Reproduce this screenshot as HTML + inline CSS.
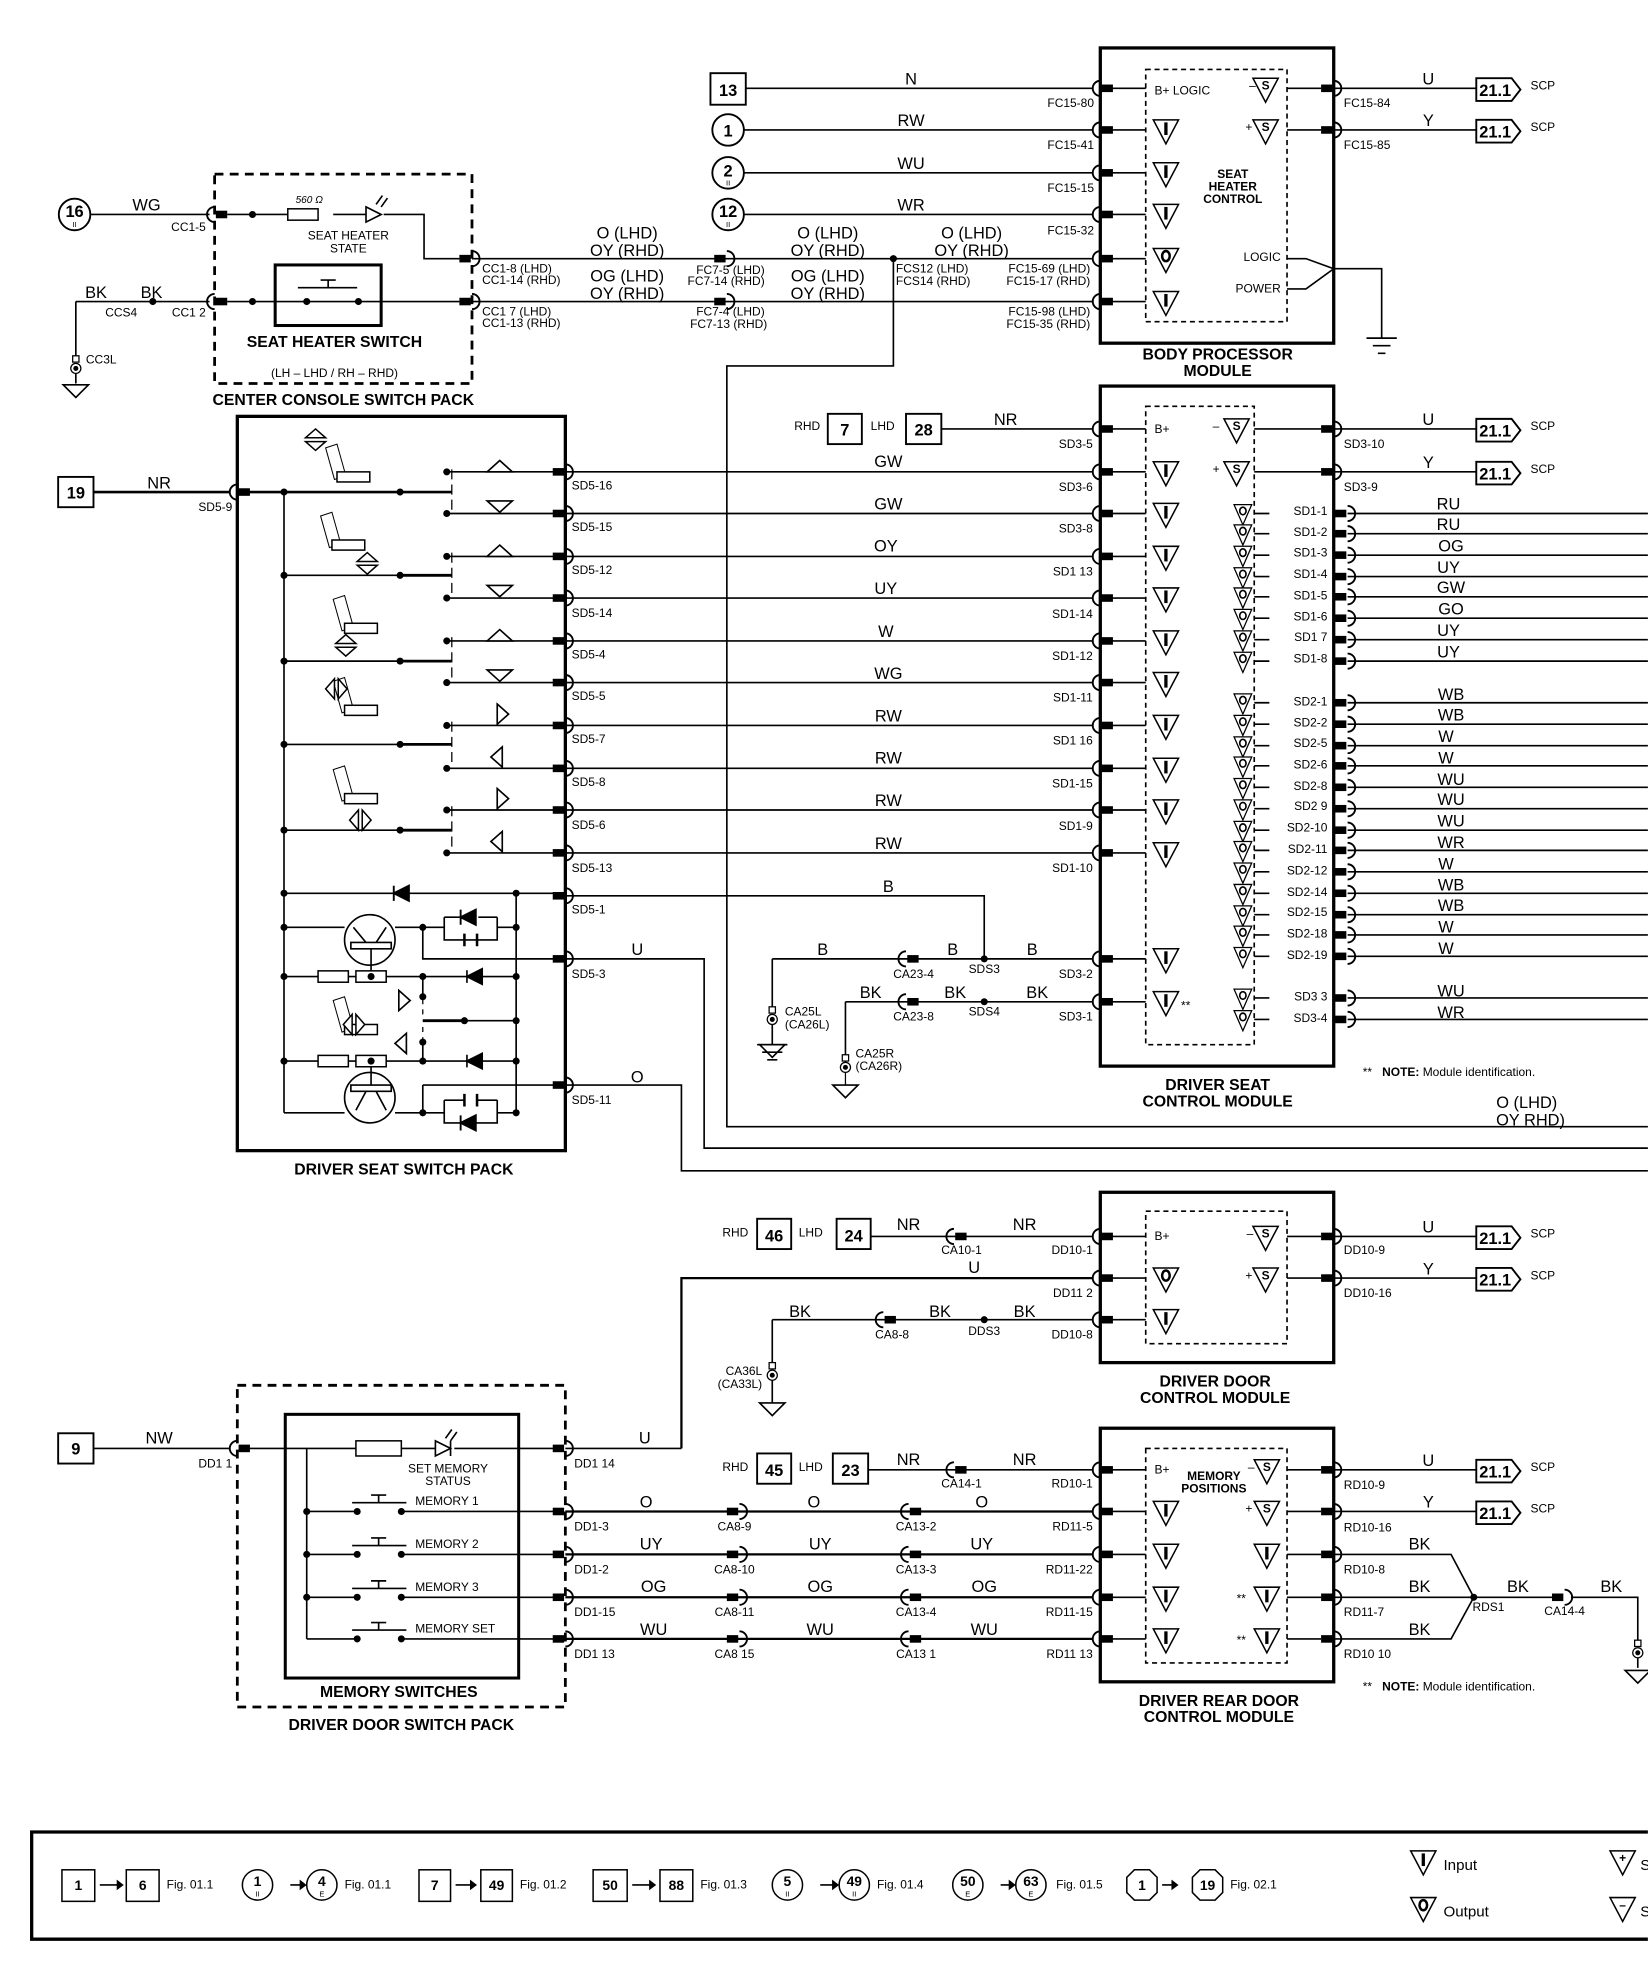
<!DOCTYPE html>
<html><head><meta charset="utf-8">
<style>
html,body{margin:0;padding:0;background:#fff;}
svg{display:block;}
text{font-family:"Liberation Sans",sans-serif;fill:#000;stroke:none;}
.s{font-size:9.5px;}
.m{font-size:13px;}
.b{font-size:12.5px;font-weight:bold;}
.n{font-size:13px;font-weight:bold;text-anchor:middle;}
.c{text-anchor:middle;}
.e{text-anchor:end;}
</style></head><body>
<svg width="1648" height="1972" viewBox="0 0 1306 1563" xmlns="http://www.w3.org/2000/svg">
<defs>
<g id="cL"><path d="M0,-6a6,6 0 0 0 0,12" fill="none" stroke="#000" stroke-width="1.5"/><rect x="1" y="-3" width="9" height="6" fill="#000"/></g>
<g id="cR"><rect x="-10" y="-3" width="9" height="6" fill="#000"/><path d="M0,-6a6,6 0 0 1 0,12" fill="none" stroke="#000" stroke-width="1.5"/></g>
<g id="ti"><path d="M-10,-8H10L0,11Z" fill="#fff" stroke="#000" stroke-width="1.2"/><path d="M0,-6V4" stroke="#000" stroke-width="2.6"/></g>
<g id="to"><path d="M-10,-8H10L0,11Z" fill="#fff" stroke="#000" stroke-width="1.2"/><ellipse cx="0" cy="-2" rx="3" ry="4" fill="none" stroke="#000" stroke-width="2"/></g>
<g id="ts"><path d="M-10,-8H10L0,11Z" fill="#fff" stroke="#000" stroke-width="1.2"/></g>
<g id="so"><path d="M-7,-7H7L0,9Z" fill="#fff" stroke="#000" stroke-width="1"/><ellipse cx="0" cy="-2" rx="2.5" ry="3" fill="none" stroke="#000" stroke-width="1.3"/></g>
<g id="gnd"><path d="M-10,0H10L0,10Z" fill="#fff" stroke="#000" stroke-width="1.3"/></g>
<g id="eye"><rect x="-2.5" y="-10" width="5" height="5" fill="#fff" stroke="#000" stroke-width="1"/><circle r="4" fill="#fff" stroke="#000" stroke-width="1"/><circle r="2" fill="#000"/></g>
<g id="ref"><path d="M0,-9H28L35,0L28,9H0Z" fill="#fff" stroke="#000" stroke-width="1.5"/></g>
<g id="dot"><circle r="2.8" fill="#000"/></g>
<g id="res"><rect x="0" y="-4.5" width="24" height="9" fill="#fff" stroke="#000" stroke-width="1.2"/></g>
<g id="seat"><path d="M0,0L9,-3L16,22L7,25Z" fill="#fff" stroke="#000" stroke-width="0.8"/><rect x="9" y="19" width="26" height="8" fill="#fff" stroke="#000" stroke-width="1.2"/></g>
<g id="up"><path d="M-10,5L0,-4L10,5Z" fill="#fff" stroke="#000" stroke-width="1.3"/></g>
<g id="dn"><path d="M-10,-5L0,4L10,-5Z" fill="#fff" stroke="#000" stroke-width="1.3"/></g>
<g id="rt"><path d="M-4,-8L5,0L-4,8Z" fill="#fff" stroke="#000" stroke-width="1.3"/></g>
<g id="lt"><path d="M4,-8L-5,0L4,8Z" fill="#fff" stroke="#000" stroke-width="1.3"/></g>
<g id="ud"><path d="M-8,-2L0,-9L8,-2ZM-8,1L0,8L8,1Z" fill="#fff" stroke="#000" stroke-width="1.2"/></g>
<g id="lr"><path d="M-2,-8L-9,0L-2,8ZM1,-8L8,0L1,8Z" fill="#fff" stroke="#000" stroke-width="1.2"/></g>
</defs>

<g stroke="#000" stroke-width="1.3" fill="none">
<rect x="872" y="38" width="185" height="234" stroke-width="2.6"/>
<rect x="908" y="55" width="112" height="200" stroke-dasharray="4,3"/>
<path d="M591,70H866M590,103H866M590,137H866M590,170H866M374,205H866M374,239H866"/>
<path d="M881,70H908M881,103H908M881,137H908M881,170H908M881,205H908M881,239H908"/>
<path d="M1020,70H1047M1020,103H1047M1057,70H1170M1057,103H1170"/>
<path d="M1020,205L1035,205L1057,213L1035,229L1020,229"/>
<path d="M1057,213H1095V268"/>
<path d="M1083,268H1107M1088,274H1102M1092,280H1098"/>
<path d="M708,205V290H576V893H1306"/>
<path d="M448,860H540V928H1306M448,760H558V910H1306"/>
</g>
<rect x="563" y="58" width="28" height="25" fill="#fff" stroke="#000" stroke-width="1.5"/>
<text x="577" y="76" class="n">13</text>
<g fill="#fff" stroke="#000" stroke-width="1.5">
<circle cx="577" cy="103" r="12.5"/><circle cx="577" cy="137" r="12.5"/><circle cx="577" cy="170" r="12.5"/><circle cx="59" cy="170" r="12.5"/>
</g>
<text x="577" y="108" class="n">1</text><text x="577" y="140" class="n">2</text><text x="577" y="172" class="n">12</text><text x="59" y="172" class="n">16</text>
<text x="577" y="147" class="s c" style="font-size:6px">II</text><text x="577" y="180" class="s c" style="font-size:6px">II</text><text x="59" y="180" class="s c" style="font-size:6px">II</text>
<use href="#cL" x="872" y="70"/><use href="#cL" x="872" y="103"/><use href="#cL" x="872" y="137"/><use href="#cL" x="872" y="170"/><use href="#cL" x="872" y="205"/><use href="#cL" x="872" y="239"/>
<use href="#cR" x="1057" y="70"/><use href="#cR" x="1057" y="103"/>
<use href="#ref" x="1170" y="71"/><use href="#ref" x="1170" y="104"/>
<text x="1185" y="76" class="n">21.1</text><text x="1185" y="109" class="n">21.1</text>
<text x="1213" y="71" class="s">SCP</text><text x="1213" y="104" class="s">SCP</text>
<text x="1132" y="67" class="m c">U</text><text x="1132" y="100" class="m c">Y</text>
<text x="1065" y="85" class="s">FC15-84</text><text x="1065" y="118" class="s">FC15-85</text>
<text x="722" y="67" class="m c">N</text><text x="722" y="100" class="m c">RW</text><text x="722" y="134" class="m c">WU</text><text x="722" y="167" class="m c">WR</text>
<text x="867" y="85" class="s e">FC15-80</text><text x="867" y="118" class="s e">FC15-41</text><text x="867" y="152" class="s e">FC15-15</text><text x="867" y="186" class="s e">FC15-32</text>
<text x="915" y="75" class="s">B+ LOGIC</text>
<use href="#ts" x="1003" y="70"/><use href="#ts" x="1003" y="103"/>
<text x="1003" y="71" class="s c" style="font-weight:bold">S</text><text x="1003" y="104" class="s c" style="font-weight:bold">S</text>
<text x="990" y="71" class="s">–</text><text x="987" y="104" class="s">+</text>
<use href="#ti" x="924" y="103"/><use href="#ti" x="924" y="137"/><use href="#ti" x="924" y="170"/><use href="#to" x="924" y="205"/><use href="#ti" x="924" y="239"/>
<text x="977" y="141" class="s c" style="font-weight:bold">SEAT</text><text x="977" y="151" class="s c" style="font-weight:bold">HEATER</text><text x="977" y="161" class="s c" style="font-weight:bold">CONTROL</text>
<text x="1015" y="207" class="s e">LOGIC</text><text x="1015" y="232" class="s e">POWER</text>
<text x="965" y="285" class="b c">BODY PROCESSOR</text><text x="965" y="298" class="b c">MODULE</text>

<text x="497" y="189" class="m c">O (LHD)</text><text x="497" y="203" class="m c">OY (RHD)</text>
<text x="497" y="223" class="m c">OG (LHD)</text><text x="497" y="237" class="m c">OY (RHD)</text>
<text x="656" y="189" class="m c">O (LHD)</text><text x="656" y="203" class="m c">OY (RHD)</text>
<text x="656" y="223" class="m c">OG (LHD)</text><text x="656" y="237" class="m c">OY (RHD)</text>
<text x="770" y="189" class="m c">O (LHD)</text><text x="770" y="203" class="m c">OY (RHD)</text>
<text x="382" y="216" class="s">CC1-8 (LHD)</text><text x="382" y="225" class="s">CC1-14 (RHD)</text>
<text x="382" y="250" class="s">CC1 7 (LHD)</text><text x="382" y="259" class="s">CC1-13 (RHD)</text>
<text x="606" y="217" class="s e">FC7-5 (LHD)</text><text x="606" y="226" class="s e">FC7-14 (RHD)</text>
<text x="606" y="250" class="s e">FC7-4 (LHD)</text><text x="608" y="260" class="s e">FC7-13 (RHD)</text>
<text x="710" y="216" class="s">FCS12 (LHD)</text><text x="710" y="226" class="s">FCS14 (RHD)</text>
<text x="864" y="216" class="s e">FC15-69 (LHD)</text><text x="864" y="226" class="s e">FC15-17 (RHD)</text>
<text x="864" y="250" class="s e">FC15-98 (LHD)</text><text x="864" y="260" class="s e">FC15-35 (RHD)</text>
<use href="#cR" x="576" y="205"/><use href="#cR" x="576" y="239"/>
<use href="#dot" x="708" y="205"/>

<g stroke="#000" stroke-width="1.3" fill="none">
<rect x="170" y="138" width="204" height="166" stroke-width="2.2" stroke-dasharray="7,5"/>
<path d="M72,170H166M180,170H228M264,170H290M304,170H336V205H364"/>
<path d="M60,239H166M180,239H364"/>
<path d="M60,239V283M60,293V304"/>
<rect x="218" y="210" width="84" height="48" stroke-width="2.4"/>
<path d="M236,228H283M260,228V222M254,222H266"/>
<path d="M290,164V176M290,164L302,170L290,176Z"/>
<path d="M298,162L303,155M302,164L307,157"/>
</g>
<use href="#res" x="228" y="170"/>
<use href="#dot" x="200" y="170"/><use href="#dot" x="200" y="239"/><use href="#dot" x="243" y="239"/><use href="#dot" x="284" y="239"/><use href="#dot" x="121" y="239"/>
<use href="#cL" x="170" y="170"/><use href="#cL" x="170" y="239"/><use href="#cR" x="374" y="205"/><use href="#cR" x="374" y="239"/>
<use href="#eye" x="60" y="292"/><use href="#gnd" x="60" y="305"/>
<text x="245" y="161" class="s c" style="font-size:8px;font-style:italic">560 Ω</text>
<text x="276" y="190" class="s c">SEAT HEATER</text><text x="276" y="200" class="s c">STATE</text>
<text x="265" y="275" class="b c">SEAT HEATER SWITCH</text>
<text x="265" y="299" class="s c">(LH – LHD / RH – RHD)</text>
<text x="272" y="321" class="b c">CENTER CONSOLE SWITCH PACK</text>
<text x="116" y="167" class="m c">WG</text><text x="163" y="183" class="s e">CC1-5</text>
<text x="76" y="236" class="m c">BK</text><text x="120" y="236" class="m c">BK</text>
<text x="96" y="251" class="s c">CCS4</text><text x="163" y="251" class="s e">CC1 2</text>
<text x="68" y="288" class="s">CC3L</text>

<g stroke="#000" stroke-width="1.3" fill="none">
<rect x="872" y="306" width="185" height="539" stroke-width="2.6"/>
<rect x="908" y="322" width="86" height="506" stroke-dasharray="4,3"/>
<path d="M746,340H866M881,340H908"/>
<path d="M448,374H866M448,407H866M448,441H866M448,474H866M448,508H866M448,541H866M448,575H866M448,609H866M448,642H866M448,676H866"/>
<path d="M881,374H908M881,407H908M881,441H908M881,474H908M881,508H908M881,541H908M881,575H908M881,609H908M881,642H908M881,676H908M881,760H908M881,794H908"/>
<path d="M994,340H1047M994,374H1047M1057,340H1170M1057,374H1170"/>
<path d="M448,710H780V760M612,760H866M612,760V800M670,794H866M670,794V850"/>
<path d="M994,407H1006M994,423H1006M994,440H1006M994,457H1006M994,473H1006M994,490H1006M994,507H1006M994,524H1006"/>
<path d="M994,557H1006M994,574H1006M994,591H1006M994,607H1006M994,624H1006M994,641H1006M994,658H1006M994,674H1006M994,691H1006M994,708H1006M994,725H1006M994,741H1006M994,758H1006M994,791H1006M994,808H1006"/>
<path d="M1068,407H1306M1068,423H1306M1068,440H1306M1068,457H1306M1068,473H1306M1068,490H1306M1068,507H1306M1068,524H1306M1068,557H1306M1068,574H1306M1068,591H1306M1068,607H1306M1068,624H1306M1068,641H1306M1068,658H1306M1068,674H1306M1068,691H1306M1068,708H1306M1068,725H1306M1068,741H1306M1068,758H1306M1068,791H1306M1068,808H1306"/>
</g>
<rect x="656" y="328" width="27" height="24" fill="#fff" stroke="#000" stroke-width="1.5"/><text x="669.5" y="345" class="n">7</text>
<rect x="718" y="328" width="28" height="24" fill="#fff" stroke="#000" stroke-width="1.5"/><text x="732" y="345" class="n">28</text>
<text x="650" y="341" class="s e">RHD</text><text x="690" y="341" class="s">LHD</text>
<text x="797" y="337" class="m c">NR</text><text x="866" y="355" class="s e">SD3-5</text>
<use href="#cL" x="872" y="340"/>
<g>
<use href="#cL" x="872" y="374"/><use href="#cL" x="872" y="407"/><use href="#cL" x="872" y="441"/><use href="#cL" x="872" y="474"/><use href="#cL" x="872" y="508"/><use href="#cL" x="872" y="541"/><use href="#cL" x="872" y="575"/><use href="#cL" x="872" y="609"/><use href="#cL" x="872" y="642"/><use href="#cL" x="872" y="676"/><use href="#cL" x="872" y="760"/><use href="#cL" x="872" y="794"/>
<use href="#cR" x="448" y="374"/><use href="#cR" x="448" y="407"/><use href="#cR" x="448" y="441"/><use href="#cR" x="448" y="474"/><use href="#cR" x="448" y="508"/><use href="#cR" x="448" y="541"/><use href="#cR" x="448" y="575"/><use href="#cR" x="448" y="609"/><use href="#cR" x="448" y="642"/><use href="#cR" x="448" y="676"/><use href="#cR" x="448" y="710"/><use href="#cR" x="448" y="760"/><use href="#cR" x="448" y="860"/>
<use href="#ti" x="924" y="374"/><use href="#ti" x="924" y="407"/><use href="#ti" x="924" y="441"/><use href="#ti" x="924" y="474"/><use href="#ti" x="924" y="508"/><use href="#ti" x="924" y="541"/><use href="#ti" x="924" y="575"/><use href="#ti" x="924" y="609"/><use href="#ti" x="924" y="642"/><use href="#ti" x="924" y="676"/><use href="#ti" x="924" y="760"/><use href="#ti" x="924" y="794"/>
</g>
<text x="936" y="800" class="s">**</text>
<text x="915" y="343" class="s">B+</text>
<use href="#ts" x="980" y="340"/><use href="#ts" x="980" y="374"/>
<text x="980" y="341" class="s c" style="font-weight:bold">S</text><text x="980" y="375" class="s c" style="font-weight:bold">S</text>
<text x="961" y="341" class="s">–</text><text x="961" y="375" class="s">+</text>
<use href="#cR" x="1057" y="340"/><use href="#cR" x="1057" y="374"/>
<use href="#ref" x="1170" y="341"/><use href="#ref" x="1170" y="375"/>
<text x="1185" y="346" class="n">21.1</text><text x="1185" y="380" class="n">21.1</text>
<text x="1213" y="341" class="s">SCP</text><text x="1213" y="375" class="s">SCP</text>
<text x="1132" y="337" class="m c">U</text><text x="1132" y="371" class="m c">Y</text>
<text x="1065" y="355" class="s">SD3-10</text><text x="1065" y="389" class="s">SD3-9</text>
<g>
<use href="#so" x="985" y="407"/><use href="#so" x="985" y="423"/><use href="#so" x="985" y="440"/><use href="#so" x="985" y="457"/><use href="#so" x="985" y="473"/><use href="#so" x="985" y="490"/><use href="#so" x="985" y="507"/><use href="#so" x="985" y="524"/>
<use href="#so" x="985" y="557"/><use href="#so" x="985" y="574"/><use href="#so" x="985" y="591"/><use href="#so" x="985" y="607"/><use href="#so" x="985" y="624"/><use href="#so" x="985" y="641"/><use href="#so" x="985" y="658"/><use href="#so" x="985" y="674"/><use href="#so" x="985" y="691"/><use href="#so" x="985" y="708"/><use href="#so" x="985" y="725"/><use href="#so" x="985" y="741"/><use href="#so" x="985" y="758"/><use href="#so" x="985" y="791"/><use href="#so" x="985" y="808"/>
<use href="#cR" x="1068" y="407"/><use href="#cR" x="1068" y="423"/><use href="#cR" x="1068" y="440"/><use href="#cR" x="1068" y="457"/><use href="#cR" x="1068" y="473"/><use href="#cR" x="1068" y="490"/><use href="#cR" x="1068" y="507"/><use href="#cR" x="1068" y="524"/>
<use href="#cR" x="1068" y="557"/><use href="#cR" x="1068" y="574"/><use href="#cR" x="1068" y="591"/><use href="#cR" x="1068" y="607"/><use href="#cR" x="1068" y="624"/><use href="#cR" x="1068" y="641"/><use href="#cR" x="1068" y="658"/><use href="#cR" x="1068" y="674"/><use href="#cR" x="1068" y="691"/><use href="#cR" x="1068" y="708"/><use href="#cR" x="1068" y="725"/><use href="#cR" x="1068" y="741"/><use href="#cR" x="1068" y="758"/><use href="#cR" x="1068" y="791"/><use href="#cR" x="1068" y="808"/>
</g>
<g class="s" style="font-size:9.5px">
<text x="1052" y="408" class="e">SD1-1</text><text x="1052" y="425" class="e">SD1-2</text><text x="1052" y="441" class="e">SD1-3</text><text x="1052" y="458" class="e">SD1-4</text><text x="1052" y="475" class="e">SD1-5</text><text x="1052" y="492" class="e">SD1-6</text><text x="1052" y="508" class="e">SD1 7</text><text x="1052" y="525" class="e">SD1-8</text>
<text x="1052" y="559" class="e">SD2-1</text><text x="1052" y="576" class="e">SD2-2</text><text x="1052" y="592" class="e">SD2-5</text><text x="1052" y="609" class="e">SD2-6</text><text x="1052" y="626" class="e">SD2-8</text><text x="1052" y="642" class="e">SD2 9</text><text x="1052" y="659" class="e">SD2-10</text><text x="1052" y="676" class="e">SD2-11</text><text x="1052" y="693" class="e">SD2-12</text><text x="1052" y="710" class="e">SD2-14</text><text x="1052" y="726" class="e">SD2-15</text><text x="1052" y="743" class="e">SD2-18</text><text x="1052" y="760" class="e">SD2-19</text><text x="1052" y="793" class="e">SD3 3</text><text x="1052" y="810" class="e">SD3-4</text>
</g>
<g class="m">
<text x="1148" y="404" class="c">RU</text><text x="1148" y="420" class="c">RU</text><text x="1150" y="437" class="c">OG</text><text x="1148" y="454" class="c">UY</text><text x="1150" y="470" class="c">GW</text><text x="1150" y="487" class="c">GO</text><text x="1148" y="504" class="c">UY</text><text x="1148" y="521" class="c">UY</text>
<text x="1150" y="555" class="c">WB</text><text x="1150" y="571" class="c">WB</text><text x="1146" y="588" class="c">W</text><text x="1146" y="605" class="c">W</text><text x="1150" y="622" class="c">WU</text><text x="1150" y="638" class="c">WU</text><text x="1150" y="655" class="c">WU</text><text x="1150" y="672" class="c">WR</text><text x="1146" y="689" class="c">W</text><text x="1150" y="706" class="c">WB</text><text x="1150" y="722" class="c">WB</text><text x="1146" y="739" class="c">W</text><text x="1146" y="756" class="c">W</text><text x="1150" y="790" class="c">WU</text><text x="1150" y="807" class="c">WR</text>
</g>
<g class="m">
<text x="704" y="370" class="c">GW</text><text x="704" y="404" class="c">GW</text><text x="702" y="437" class="c">OY</text><text x="702" y="471" class="c">UY</text><text x="702" y="505" class="c">W</text><text x="704" y="538" class="c">WG</text><text x="704" y="572" class="c">RW</text><text x="704" y="605" class="c">RW</text><text x="704" y="639" class="c">RW</text><text x="704" y="673" class="c">RW</text>
<text x="704" y="707" class="c">B</text><text x="505" y="757" class="c">U</text><text x="505" y="858" class="c">O</text>
<text x="652" y="757" class="c">B</text><text x="755" y="757" class="c">B</text><text x="818" y="757" class="c">B</text>
<text x="690" y="791" class="c">BK</text><text x="757" y="791" class="c">BK</text><text x="822" y="791" class="c">BK</text>
</g>
<g class="s">
<text x="866" y="389" class="e">SD3-6</text><text x="866" y="422" class="e">SD3-8</text><text x="866" y="456" class="e">SD1 13</text><text x="866" y="490" class="e">SD1-14</text><text x="866" y="523" class="e">SD1-12</text><text x="866" y="556" class="e">SD1-11</text><text x="866" y="590" class="e">SD1 16</text><text x="866" y="624" class="e">SD1-15</text><text x="866" y="658" class="e">SD1-9</text><text x="866" y="691" class="e">SD1-10</text><text x="866" y="775" class="e">SD3-2</text><text x="866" y="809" class="e">SD3-1</text>
<text x="453" y="388">SD5-16</text><text x="453" y="421">SD5-15</text><text x="453" y="455">SD5-12</text><text x="453" y="489">SD5-14</text><text x="453" y="522">SD5-4</text><text x="453" y="555">SD5-5</text><text x="453" y="589">SD5-7</text><text x="453" y="623">SD5-8</text><text x="453" y="657">SD5-6</text><text x="453" y="691">SD5-13</text><text x="453" y="724">SD5-1</text><text x="453" y="775">SD5-3</text><text x="453" y="875">SD5-11</text>
<text x="724" y="775" class="c">CA23-4</text><text x="780" y="771" class="c">SDS3</text><text x="724" y="809" class="c">CA23-8</text><text x="780" y="805" class="c">SDS4</text>
<text x="622" y="805">CA25L</text><text x="622" y="815">(CA26L)</text><text x="678" y="838">CA25R</text><text x="678" y="848">(CA26R)</text>
</g>
<use href="#cL" x="718" y="760"/><use href="#cL" x="718" y="794"/><use href="#dot" x="780" y="760"/><use href="#dot" x="780" y="794"/>
<use href="#eye" x="612" y="808"/><use href="#gnd" x="612" y="828"/><path d="M612,812V828M600,828H624M604,834H620M608,840H616" stroke="#000" stroke-width="1.3"/>
<use href="#eye" x="670" y="846"/><use href="#gnd" x="670" y="860"/><path d="M670,850V860" stroke="#000"/>
<text x="1080" y="853" class="s"><tspan>**</tspan><tspan dx="8" font-weight="bold">NOTE:</tspan> Module identification.</text>
<text x="965" y="864" class="b c">DRIVER SEAT</text><text x="965" y="877" class="b c">CONTROL MODULE</text>
<text x="1210" y="878" class="m c">O (LHD)</text><text x="1213" y="892" class="m c">OY RHD)</text>

<g stroke="#000" stroke-width="1.3" fill="none">
<rect x="188" y="330" width="260" height="582" stroke-width="2.6"/>
<path d="M74,390H182M197,390H358" stroke-width="2"/>
<path d="M225,390V882"/>
<path d="M225,456H358M225,524H358M225,590H358M225,658H358"/>
<path d="M317,456H358M317,524H358M317,590H358M317,658H358" stroke-width="2.2"/>
<path d="M354,374H440M354,407H440M354,441H440M354,474H440M354,508H440M354,541H440M354,575H440M354,609H440M354,642H440M354,676H440"/>
<path d="M358,372V380M358,384V392M358,396V404M358,438V446M358,450V458M358,462V470M358,505V513M358,517V525M358,529V537M358,572V580M358,584V592M358,596V604M358,639V647M358,651V659M358,663V671" stroke-width="1"/>
<path d="M225,708H440M225,735H273M313,735H352M394,735H409M335,735V760H440M225,774H252M276,774H282M306,774H409M225,841H252M276,841H282M306,841H409M335,774V790M335,826V841M335,809H409M335,860H440M335,860V882M225,882H273M313,882H352M394,882H409M409,708V882"/>
<path d="M352,727V745H394V727M352,727H365M379,727H394M352,745H368M378,745H394M352,872V890H394V872M352,890H365M379,890H394M352,872H368M378,872H394"/>
<path d="M368,740V750M378,740V750M368,867V877M378,867V877" stroke-width="2"/>
<path d="M335,809H368" stroke-width="2.2"/>
<path d="M335,792V796M335,800V804M335,814V818M335,822V826" stroke-width="1"/>
<circle cx="293" cy="745" r="20"/><circle cx="293" cy="870" r="20"/>
<path d="M278,747H310V752H278ZM294,752V774M280,735L290,747M306,735L298,747M278,860H310V865H278ZM294,860V841M282,880L290,865M306,880L298,865"/>
<path d="M370,769V779M370,836V846"/>
</g>
<path d="M312,708L324,702V714Z M312,702V714" fill="#000" stroke="#000" stroke-width="1.5"/>
<path d="M365,727L377,721V733Z M365,721V733" fill="#000" stroke="#000" stroke-width="1.5"/>
<path d="M365,890L377,884V896Z M365,884V896" fill="#000" stroke="#000" stroke-width="1.5"/>
<path d="M370,774L382,768V780Z M370,841L382,835V847Z" fill="#000" stroke="#000" stroke-width="1.5"/>
<use href="#res" x="252" y="774"/><use href="#res" x="282" y="774"/><use href="#res" x="252" y="841"/><use href="#res" x="282" y="841"/>
<use href="#cL" x="188" y="390"/>
<g>
<use href="#dot" x="225" y="390"/><use href="#dot" x="317" y="390"/><use href="#dot" x="225" y="456"/><use href="#dot" x="317" y="456"/><use href="#dot" x="225" y="524"/><use href="#dot" x="317" y="524"/><use href="#dot" x="225" y="590"/><use href="#dot" x="317" y="590"/><use href="#dot" x="225" y="658"/><use href="#dot" x="317" y="658"/>
<use href="#dot" x="354" y="374"/><use href="#dot" x="354" y="407"/><use href="#dot" x="354" y="441"/><use href="#dot" x="354" y="474"/><use href="#dot" x="354" y="508"/><use href="#dot" x="354" y="541"/><use href="#dot" x="354" y="575"/><use href="#dot" x="354" y="609"/><use href="#dot" x="354" y="642"/><use href="#dot" x="354" y="676"/>
<use href="#dot" x="225" y="708"/><use href="#dot" x="409" y="708"/><use href="#dot" x="225" y="735"/><use href="#dot" x="335" y="735"/><use href="#dot" x="409" y="735"/><use href="#dot" x="225" y="774"/><use href="#dot" x="294" y="774"/><use href="#dot" x="335" y="774"/><use href="#dot" x="409" y="774"/><use href="#dot" x="335" y="790"/><use href="#dot" x="335" y="826"/><use href="#dot" x="368" y="809"/><use href="#dot" x="409" y="809"/><use href="#dot" x="225" y="841"/><use href="#dot" x="294" y="841"/><use href="#dot" x="335" y="841"/><use href="#dot" x="409" y="841"/><use href="#dot" x="335" y="882"/><use href="#dot" x="409" y="882"/>
</g>
<use href="#up" x="396" y="369"/><use href="#dn" x="396" y="402"/><use href="#up" x="396" y="436"/><use href="#dn" x="396" y="469"/><use href="#up" x="396" y="503"/><use href="#dn" x="396" y="536"/><use href="#rt" x="398" y="566"/><use href="#lt" x="394" y="600"/><use href="#rt" x="398" y="633"/><use href="#lt" x="394" y="667"/>
<use href="#seat" x="258" y="355"/><use href="#seat" x="254" y="409"/><use href="#seat" x="264" y="475"/><use href="#seat" x="264" y="540"/><use href="#seat" x="264" y="610"/><use href="#seat" x="264" y="793"/>
<use href="#ud" x="250" y="349"/><use href="#ud" x="291" y="447"/><use href="#ud" x="274" y="512"/><use href="#lr" x="267" y="546"/><use href="#lr" x="286" y="650"/><use href="#lr" x="281" y="812"/>
<use href="#rt" x="320" y="793"/><use href="#lt" x="318" y="827"/>
<rect x="46" y="378" width="28" height="24" fill="#fff" stroke="#000" stroke-width="1.5"/><text x="60" y="395" class="n">19</text>
<text x="126" y="387" class="m c">NR</text><text x="184" y="405" class="s e">SD5-9</text>
<text x="320" y="931" class="b c">DRIVER SEAT SWITCH PACK</text>

<g stroke="#000" stroke-width="1.3" fill="none">
<rect x="872" y="945" width="185" height="135" stroke-width="2.6"/>
<rect x="908" y="960" width="112" height="105" stroke-dasharray="4,3"/>
<path d="M690,980H866M881,980H908M881,1013H908M881,1046H908M1020,980H1047M1020,1013H1047M1057,980H1170M1057,1013H1170"/>
<path d="M540,1148V1013H866" stroke-width="1.8"/>
<path d="M612,1046H866M612,1046V1082M612,1092V1112"/>
</g>
<rect x="600" y="966" width="27" height="24" fill="#fff" stroke="#000" stroke-width="1.5"/><text x="613.5" y="984" class="n">46</text>
<rect x="663" y="966" width="27" height="24" fill="#fff" stroke="#000" stroke-width="1.5"/><text x="676.5" y="984" class="n">24</text>
<text x="593" y="980" class="s e">RHD</text><text x="633" y="980" class="s">LHD</text>
<use href="#cL" x="756" y="980"/><use href="#cL" x="872" y="980"/><use href="#cL" x="872" y="1013"/><use href="#cL" x="872" y="1046"/><use href="#cL" x="700" y="1046"/><use href="#dot" x="780" y="1046"/>
<use href="#cR" x="1057" y="980"/><use href="#cR" x="1057" y="1013"/>
<use href="#eye" x="612" y="1090"/><use href="#gnd" x="612" y="1112"/>
<text x="720" y="975" class="m c">NR</text><text x="812" y="975" class="m c">NR</text><text x="772" y="1009" class="m c">U</text>
<text x="634" y="1044" class="m c">BK</text><text x="745" y="1044" class="m c">BK</text><text x="812" y="1044" class="m c">BK</text>
<text x="762" y="994" class="s c">CA10-1</text><text x="866" y="994" class="s e">DD10-1</text><text x="866" y="1028" class="s e">DD11 2</text>
<text x="707" y="1061" class="s c">CA8-8</text><text x="780" y="1058" class="s c">DDS3</text><text x="866" y="1061" class="s e">DD10-8</text>
<text x="604" y="1090" class="s e">CA36L</text><text x="604" y="1100" class="s e">(CA33L)</text>
<text x="915" y="983" class="s">B+</text>
<use href="#ts" x="1003" y="980"/><use href="#ts" x="1003" y="1013"/>
<text x="1003" y="981" class="s c" style="font-weight:bold">S</text><text x="1003" y="1014" class="s c" style="font-weight:bold">S</text>
<text x="988" y="981" class="s">–</text><text x="987" y="1014" class="s">+</text>
<use href="#to" x="924" y="1013"/><use href="#ti" x="924" y="1046"/>
<use href="#ref" x="1170" y="981"/><use href="#ref" x="1170" y="1014"/>
<text x="1185" y="986" class="n">21.1</text><text x="1185" y="1019" class="n">21.1</text>
<text x="1213" y="981" class="s">SCP</text><text x="1213" y="1014" class="s">SCP</text>
<text x="1132" y="977" class="m c">U</text><text x="1132" y="1010" class="m c">Y</text>
<text x="1065" y="994" class="s">DD10-9</text><text x="1065" y="1028" class="s">DD10-16</text>
<text x="963" y="1099" class="b c">DRIVER DOOR</text><text x="963" y="1112" class="b c">CONTROL MODULE</text>

<g stroke="#000" stroke-width="1.3" fill="none">
<rect x="188" y="1098" width="260" height="255" stroke-width="2.2" stroke-dasharray="7,5"/>
<rect x="226" y="1121" width="185" height="209" stroke-width="2.4"/>
<path d="M74,1148H182M197,1148H282M318,1148H345M360,1148H440M448,1148H540"/>
<path d="M243,1148V1299"/>
<path d="M243,1198H283M318,1198H440M243,1232H283M318,1232H440M243,1266H283M318,1266H440M243,1299H283M318,1299H440"/>
<path d="M448,1198H866M448,1232H866M448,1266H866M448,1299H866" stroke-width="1.8"/>
<path d="M279,1191H322M300,1191V1185M294,1185H306M279,1225H322M300,1225V1219M294,1219H306M279,1259H322M300,1259V1253M294,1253H306M279,1292H322M300,1292V1286M294,1286H306"/>
<path d="M345,1142V1154M345,1142L357,1148L345,1154Z M357,1142V1154M353,1140L358,1133M357,1142L362,1135"/>
</g>
<rect x="282" y="1142" width="36" height="12" fill="#fff" stroke="#000" stroke-width="1.2"/>
<g>
<use href="#dot" x="243" y="1198"/><use href="#dot" x="243" y="1232"/><use href="#dot" x="243" y="1266"/><use href="#dot" x="283" y="1198"/><use href="#dot" x="318" y="1198"/><use href="#dot" x="283" y="1232"/><use href="#dot" x="318" y="1232"/><use href="#dot" x="283" y="1266"/><use href="#dot" x="318" y="1266"/><use href="#dot" x="283" y="1299"/><use href="#dot" x="318" y="1299"/>
<use href="#cL" x="188" y="1148"/><use href="#cR" x="448" y="1148"/><use href="#cR" x="448" y="1198"/><use href="#cR" x="448" y="1232"/><use href="#cR" x="448" y="1266"/><use href="#cR" x="448" y="1299"/>
<use href="#cR" x="586" y="1198"/><use href="#cR" x="586" y="1232"/><use href="#cR" x="586" y="1266"/><use href="#cR" x="586" y="1299"/>
<use href="#cL" x="720" y="1198"/><use href="#cL" x="720" y="1232"/><use href="#cL" x="720" y="1266"/><use href="#cL" x="720" y="1299"/>
</g>
<rect x="46" y="1136" width="28" height="24" fill="#fff" stroke="#000" stroke-width="1.5"/><text x="60" y="1153" class="n">9</text>
<text x="126" y="1144" class="m c">NW</text><text x="184" y="1163" class="s e">DD1 1</text>
<text x="355" y="1167" class="s c">SET MEMORY</text><text x="355" y="1177" class="s c">STATUS</text>
<text x="329" y="1193" class="s">MEMORY 1</text><text x="329" y="1227" class="s">MEMORY 2</text><text x="329" y="1261" class="s">MEMORY 3</text><text x="329" y="1294" class="s">MEMORY SET</text>
<text x="316" y="1345" class="b c">MEMORY SWITCHES</text><text x="318" y="1371" class="b c">DRIVER DOOR SWITCH PACK</text>
<text x="511" y="1144" class="m c">U</text>
<text x="512" y="1195" class="m c">O</text><text x="516" y="1228" class="m c">UY</text><text x="518" y="1262" class="m c">OG</text><text x="518" y="1296" class="m c">WU</text>
<text x="645" y="1195" class="m c">O</text><text x="650" y="1228" class="m c">UY</text><text x="650" y="1262" class="m c">OG</text><text x="650" y="1296" class="m c">WU</text>
<text x="778" y="1195" class="m c">O</text><text x="778" y="1228" class="m c">UY</text><text x="780" y="1262" class="m c">OG</text><text x="780" y="1296" class="m c">WU</text>
<g class="s">
<text x="455" y="1163">DD1 14</text><text x="455" y="1213">DD1-3</text><text x="455" y="1247">DD1-2</text><text x="455" y="1281">DD1-15</text><text x="455" y="1314">DD1 13</text>
<text x="582" y="1213" class="c">CA8-9</text><text x="582" y="1247" class="c">CA8-10</text><text x="582" y="1281" class="c">CA8-11</text><text x="582" y="1314" class="c">CA8 15</text>
<text x="726" y="1213" class="c">CA13-2</text><text x="726" y="1247" class="c">CA13-3</text><text x="726" y="1281" class="c">CA13-4</text><text x="726" y="1314" class="c">CA13 1</text>
<text x="866" y="1213" class="e">RD11-5</text><text x="866" y="1247" class="e">RD11-22</text><text x="866" y="1281" class="e">RD11-15</text><text x="866" y="1314" class="e">RD11 13</text>
</g>

<g stroke="#000" stroke-width="1.3" fill="none">
<rect x="872" y="1132" width="185" height="201" stroke-width="2.6"/>
<rect x="908" y="1148" width="112" height="170" stroke-dasharray="4,3"/>
<path d="M688,1165H866M881,1165H908M881,1198H908M881,1232H908M881,1266H908M881,1299H908"/>
<path d="M1020,1165H1047M1020,1198H1047M1020,1232H1047M1020,1266H1047M1020,1299H1047M1057,1165H1170M1057,1198H1170"/>
<path d="M1057,1232H1150L1168,1266L1150,1299H1057M1057,1266H1235M1245,1266H1298V1300M1298,1312V1322"/>
</g>
<rect x="600" y="1152" width="27" height="24" fill="#fff" stroke="#000" stroke-width="1.5"/><text x="613.5" y="1170" class="n">45</text>
<rect x="660" y="1152" width="28" height="24" fill="#fff" stroke="#000" stroke-width="1.5"/><text x="674" y="1170" class="n">23</text>
<text x="593" y="1166" class="s e">RHD</text><text x="633" y="1166" class="s">LHD</text>
<use href="#cL" x="756" y="1165"/><use href="#cL" x="872" y="1165"/><use href="#cL" x="872" y="1198"/><use href="#cL" x="872" y="1232"/><use href="#cL" x="872" y="1266"/><use href="#cL" x="872" y="1299"/>
<use href="#cR" x="1057" y="1165"/><use href="#cR" x="1057" y="1198"/><use href="#cR" x="1057" y="1232"/><use href="#cR" x="1057" y="1266"/><use href="#cR" x="1057" y="1299"/>
<use href="#cR" x="1240" y="1266"/><use href="#dot" x="1168" y="1266"/>
<use href="#eye" x="1298" y="1310"/><use href="#gnd" x="1298" y="1324"/>
<text x="720" y="1161" class="m c">NR</text><text x="812" y="1161" class="m c">NR</text>
<text x="762" y="1179" class="s c">CA14-1</text><text x="866" y="1179" class="s e">RD10-1</text>
<text x="915" y="1168" class="s">B+</text>
<text x="962" y="1173" class="s c" style="font-weight:bold">MEMORY</text><text x="962" y="1183" class="s c" style="font-weight:bold">POSITIONS</text>
<use href="#ts" x="1004" y="1165"/><use href="#ts" x="1004" y="1198"/>
<text x="1004" y="1166" class="s c" style="font-weight:bold">S</text><text x="1004" y="1199" class="s c" style="font-weight:bold">S</text>
<text x="989" y="1166" class="s">–</text><text x="987" y="1199" class="s">+</text>
<use href="#ti" x="924" y="1198"/><use href="#ti" x="924" y="1232"/><use href="#ti" x="924" y="1266"/><use href="#ti" x="924" y="1299"/>
<use href="#ti" x="1004" y="1232"/><use href="#ti" x="1004" y="1266"/><use href="#ti" x="1004" y="1299"/>
<text x="980" y="1270" class="s">**</text><text x="980" y="1303" class="s">**</text>
<use href="#ref" x="1170" y="1166"/><use href="#ref" x="1170" y="1199"/>
<text x="1185" y="1171" class="n">21.1</text><text x="1185" y="1204" class="n">21.1</text>
<text x="1213" y="1166" class="s">SCP</text><text x="1213" y="1199" class="s">SCP</text>
<text x="1132" y="1162" class="m c">U</text><text x="1132" y="1195" class="m c">Y</text>
<text x="1125" y="1228" class="m c">BK</text><text x="1125" y="1262" class="m c">BK</text><text x="1125" y="1296" class="m c">BK</text>
<text x="1203" y="1262" class="m c">BK</text><text x="1277" y="1262" class="m c">BK</text>
<g class="s">
<text x="1065" y="1180">RD10-9</text><text x="1065" y="1214">RD10-16</text><text x="1065" y="1247">RD10-8</text><text x="1065" y="1281">RD11-7</text><text x="1065" y="1314">RD10 10</text>
<text x="1167" y="1277">RDS1</text><text x="1240" y="1280" class="c">CA14-4</text>
</g>
<text x="1080" y="1340" class="s"><tspan>**</tspan><tspan dx="8" font-weight="bold">NOTE:</tspan> Module identification.</text>
<text x="966" y="1352" class="b c">DRIVER REAR DOOR</text><text x="966" y="1365" class="b c">CONTROL MODULE</text>

<path d="M1306,1452H25V1537H1306" fill="none" stroke="#000" stroke-width="2.6"/>
<g fill="#fff" stroke="#000" stroke-width="1.2">
<rect x="49" y="1482" width="26" height="25"/><rect x="100" y="1482" width="26" height="25"/>
<rect x="332" y="1482" width="25" height="25"/><rect x="381" y="1482" width="25" height="25"/>
<rect x="470" y="1482" width="27" height="25"/><rect x="523" y="1482" width="26" height="25"/>
<circle cx="204" cy="1494" r="12"/><circle cx="255" cy="1494" r="12"/>
<circle cx="624" cy="1494" r="12"/><circle cx="677" cy="1494" r="12"/>
<circle cx="767" cy="1494" r="12"/><circle cx="817" cy="1494" r="12"/>
<path d="M899,1482H911L917,1488V1500L911,1506H899L893,1500V1488Z"/>
<path d="M951,1482H963L969,1488V1500L963,1506H951L945,1500V1488Z"/>
</g>
<g stroke="#000" stroke-width="1.2" fill="#000">
<path d="M79,1494H93M93,1491L97,1494L93,1497Z M230,1494H238M238,1491L242,1494L238,1497Z M361,1494H373M373,1491L377,1494L373,1497Z M501,1494H515M515,1491L519,1494L515,1497Z M650,1494H660M660,1491L664,1494L660,1497Z M793,1494H800M800,1491L804,1494L800,1497Z M921,1494H929M929,1491L933,1494L929,1497Z"/>
</g>
<g style="font-size:11px;font-weight:bold" text-anchor="middle">
<text x="62" y="1498">1</text><text x="113" y="1498">6</text><text x="204" y="1495">1</text><text x="255" y="1495">4</text>
<text x="344.5" y="1498">7</text><text x="393.5" y="1498">49</text><text x="483.5" y="1498">50</text><text x="536" y="1498">88</text>
<text x="624" y="1495">5</text><text x="677" y="1495">49</text><text x="767" y="1495">50</text><text x="817" y="1495">63</text>
<text x="905" y="1498">1</text><text x="957" y="1498">19</text>
</g>
<g style="font-size:6px" text-anchor="middle">
<text x="204" y="1503">II</text><text x="255" y="1503">E</text><text x="624" y="1503">II</text><text x="677" y="1503">II</text><text x="767" y="1503">E</text><text x="817" y="1503">E</text>
</g>
<g class="s">
<text x="132" y="1497">Fig. 01.1</text><text x="273" y="1497">Fig. 01.1</text><text x="412" y="1497">Fig. 01.2</text><text x="555" y="1497">Fig. 01.3</text><text x="695" y="1497">Fig. 01.4</text><text x="837" y="1497">Fig. 01.5</text><text x="975" y="1497">Fig. 02.1</text>
</g>
<use href="#ti" x="1128" y="1475"/><use href="#to" x="1128" y="1512"/>
<text x="1144" y="1482" style="font-size:12px">Input</text><text x="1144" y="1519" style="font-size:12px">Output</text>
<use href="#ts" x="1286" y="1475"/><use href="#ts" x="1286" y="1512"/>
<text x="1286" y="1476" class="s c" style="font-weight:bold">+</text><text x="1286" y="1513" class="s c" style="font-weight:bold">–</text>
<text x="1300" y="1482" style="font-size:12px">S</text><text x="1300" y="1519" style="font-size:12px">S</text>
</svg>
</body></html>
